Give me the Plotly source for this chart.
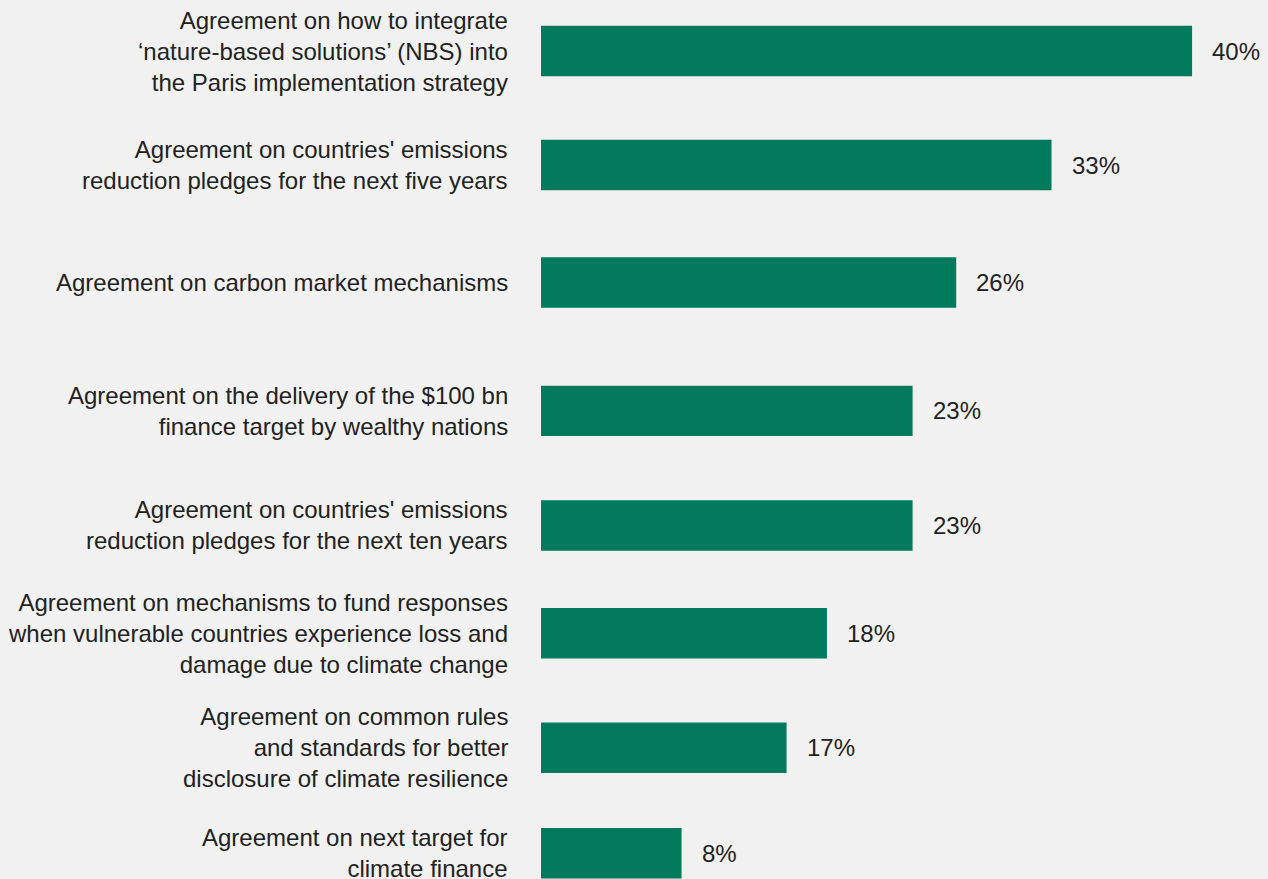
import plotly.graph_objects as go

categories = [
    "Agreement on how to integrate<br>‘nature-based solutions’ (NBS) into<br>the Paris implementation strategy",
    "Agreement on countries' emissions<br>reduction pledges for the next five years",
    "Agreement on carbon market mechanisms",
    "Agreement on the delivery of the $100 bn<br>finance target by wealthy nations",
    "Agreement on countries' emissions<br>reduction pledges for the next ten years",
    "Agreement on mechanisms to fund responses<br>when vulnerable countries experience loss and<br>damage due to climate change",
    "Agreement on common rules<br>and standards for better<br>disclosure of climate resilience",
    "Agreement on next target for<br>climate finance",
]
values = [40.3, 31.6, 25.7, 23.0, 23.0, 17.7, 15.2, 8.7]
value_labels = ["40%", "33%", "26%", "23%", "23%", "18%", "17%", "8%"]
# row positions (uneven spacing of the original layout)
row_pos = [0.0, 0.995, 2.02, 3.14, 4.14, 5.08, 6.08, 7.0]

BG = "#f0f1f0"
BAR = "#027a5c"
TXT = "#222222"
FONT = "Liberation Sans, Arial, Helvetica, sans-serif"

fig = go.Figure(
    go.Bar(
        x=values,
        y=row_pos,
        orientation="h",
        marker=dict(color=BAR, line=dict(width=0)),
        width=0.44,
        hoverinfo="skip",
    )
)

for v, yp, lab in zip(values, row_pos, value_labels):
    fig.add_annotation(
        x=v, y=yp, xref="x", yref="y", text=lab, showarrow=False,
        xanchor="left", yanchor="middle", xshift=18,
        font=dict(family=FONT, size=24, color=TXT),
    )

for cat, yp in zip(categories, row_pos):
    fig.add_annotation(
        x=0, y=yp, xref="paper", yref="y", text=cat, showarrow=False,
        xanchor="right", yanchor="middle", align="right", xshift=-31,
        font=dict(family=FONT, size=24, color=TXT),
    )

fig.update_layout(
    width=1268, height=879,
    margin=dict(l=541, r=0, t=0, b=0),
    paper_bgcolor=BG, plot_bgcolor=BG,
    showlegend=False,
    font=dict(family=FONT, size=24, color=TXT),
    xaxis=dict(range=[0, 45], visible=False, fixedrange=True),
    yaxis=dict(
        range=[7.225, -0.445],
        showticklabels=False,
        showgrid=False, zeroline=False, showline=False, ticks="",
        fixedrange=True,
    ),
)

fig.write_html(
    "out.html",
    config={"displayModeBar": False},
    post_script="document.body.style.margin='0';document.body.style.overflow='hidden';",
)
